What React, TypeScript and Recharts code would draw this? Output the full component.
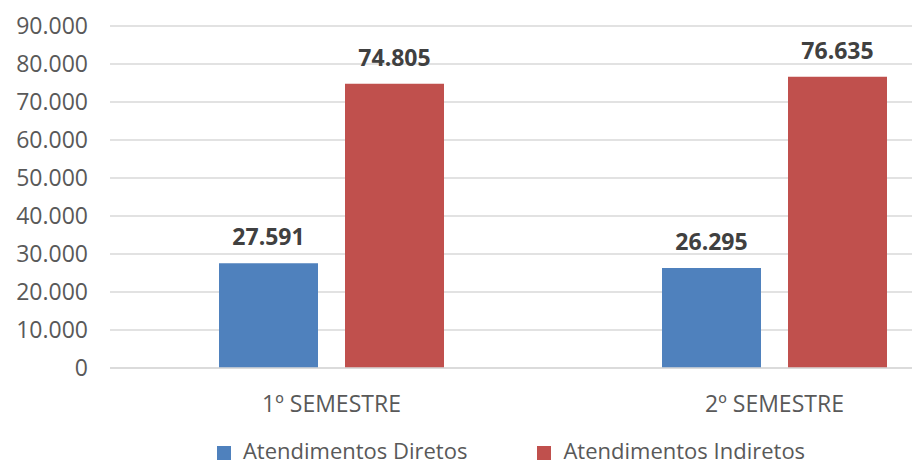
import React from 'react';
import { BarChart, Bar, XAxis, YAxis, CartesianGrid, Legend, LabelList } from 'recharts';

const semesters = ['1º SEMESTRE', '2º SEMESTRE'];
const diretos = [27591, 26295];
const indiretos = [74805, 76635];
const yTicks = [0, 10000, 20000, 30000, 40000, 50000, 60000, 70000, 80000, 90000];

const FONT = '"Open Sans", sans-serif';

// formato pt-BR: 74.805
const fmt = (v: number) => String(v).replace(/\B(?=(\d{3})+(?!\d))/g, '.');

export default function App() {
    const data = semesters.map((s, i) => ({
        semestre: s,
        'Atendimentos Diretos': diretos[i],
        'Atendimentos Indiretos': indiretos[i],
    }));

    return (
        <div style={{ position: 'absolute', left: 0, top: 0, width: 912, height: 466, overflow: 'hidden', background: '#fff' }}>
            <BarChart
                width={996}
                height={466}
                data={data}
                margin={{ top: 26, right: 0, left: 2, bottom: 18 }}
                barSize={99}
                barGap={27}
                style={{ fontFamily: FONT }}
            >
                <CartesianGrid vertical={false} stroke="#d9d9d9" strokeWidth={1.5} />
                <XAxis
                    dataKey="semestre"
                    height={50}
                    axisLine={{ stroke: '#d9d9d9', strokeWidth: 1.5 }}
                    tickLine={false}
                    tickMargin={22}
                    tick={{ fill: '#595959', fontSize: 23, fontFamily: FONT }}
                />
                <YAxis
                    width={108}
                    domain={[0, 90000]}
                    ticks={yTicks}
                    interval={0}
                    axisLine={false}
                    tickLine={false}
                    tickMargin={16}
                    tickFormatter={fmt}
                    tick={{ fill: '#595959', fontSize: 23, fontFamily: FONT }}
                />
                <Legend
                    verticalAlign="bottom"
                    height={30}
                    iconType="square"
                    iconSize={14}
                    wrapperStyle={{ fontSize: 22, fontFamily: FONT, left: 49, top: 435 }}
                    formatter={(value: string) => <span style={{ color: '#595959', marginLeft: 8, marginRight: 60 }}>{value}</span>}
                />
                <Bar dataKey="Atendimentos Diretos" fill="#4F81BD" isAnimationActive={false}>
                    <LabelList dataKey="Atendimentos Diretos" position="top" offset={18} formatter={fmt}
                        style={{ fill: '#404040', fontSize: 23, fontWeight: 700, fontFamily: FONT }} />
                </Bar>
                <Bar dataKey="Atendimentos Indiretos" fill="#C0504D" isAnimationActive={false}>
                    <LabelList dataKey="Atendimentos Indiretos" position="top" offset={18} formatter={fmt}
                        style={{ fill: '#404040', fontSize: 23, fontWeight: 700, fontFamily: FONT }} />
                </Bar>
            </BarChart>
        </div>
    );
}
